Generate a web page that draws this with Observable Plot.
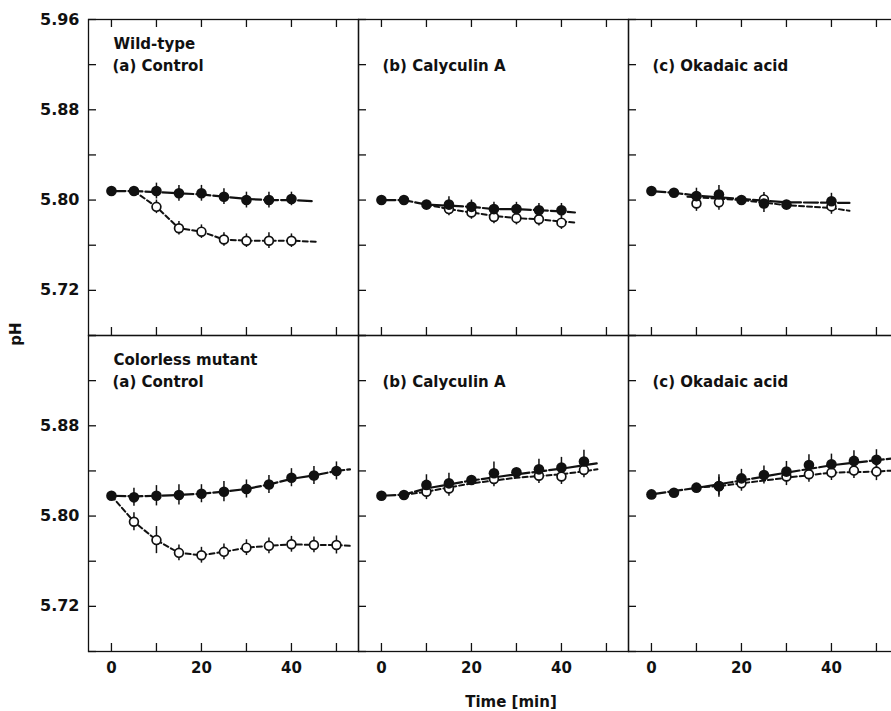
<!DOCTYPE html>
<html><head><meta charset="utf-8">
<script src="https://cdn.jsdelivr.net/npm/d3@7"></script>
<script src="https://cdn.jsdelivr.net/npm/@observablehq/plot@0.6"></script>
<style>
html,body{margin:0;padding:0;background:#fff;overflow:hidden;}
#wrap{position:relative;width:898px;height:711px;font-family:"DejaVu Sans",sans-serif;font-weight:bold;color:#111;}
#ylab{position:absolute;left:16px;top:334px;transform:translate(-50%,-50%) rotate(-90deg);font-size:15px;line-height:1;}
#xlab{position:absolute;left:511px;top:695px;height:14px;transform:translateX(-50%);font-size:15px;white-space:nowrap;line-height:14px;}
</style></head><body>
<div id="wrap"><div id="chart"></div><div id="ylab">pH</div><div id="xlab">Time [min]</div></div>
<script>
const strains = ["Wild-type", "Colorless mutant"];
const treatments = ["(a) Control", "(b) Calyculin A", "(c) Okadaic acid"];
const times = [0, 5, 10, 15, 20, 25, 30, 35, 40, 45, 50];
const xTicks = [0, 10, 20, 30, 40, 50];
const xTickLabels = [0, 20, 40];
const yTicks = [5.68, 5.72, 5.76, 5.80, 5.84, 5.88, 5.92, 5.96];
const yLabelsWild = [5.72, 5.80, 5.88, 5.96];
const yLabelsMutant = [5.72, 5.80, 5.88];

// Wild-type (a) Control
const wtCtrlFilled = [5.808, 5.808, 5.808, 5.806, 5.806, 5.803, 5.800, 5.800, 5.801];
const wtCtrlFilledErr = [0, 0, 0.007, 0.007, 0.007, 0.007, 0.007, 0.007, 0.006];
const wtCtrlOpen = [null, null, 5.794, 5.775, 5.772, 5.765, 5.764, 5.764, 5.764];
const wtCtrlOpenErr = [null, null, 0.006, 0.006, 0.006, 0.006, 0.006, 0.007, 0.006];
const wtCtrlFilledLine = [[0, 5.808], [5, 5.808], [10, 5.807], [15, 5.806], [20, 5.805], [25, 5.803], [30, 5.801], [35, 5.800], [40, 5.800], [44.5, 5.799]];
const wtCtrlOpenLine = [[5, 5.808], [10, 5.794], [15, 5.775], [20, 5.772], [25, 5.765], [30, 5.764], [35, 5.764], [40, 5.764], [45.5, 5.763]];

// Wild-type (b) Calyculin A
const wtCalyFilled = [5.800, 5.800, 5.796, 5.796, 5.794, 5.792, 5.792, 5.791, 5.791];
const wtCalyFilledErr = [0, 0, 0, 0.007, 0.006, 0.006, 0.006, 0.006, 0.006];
const wtCalyOpen = [null, null, null, 5.792, 5.789, 5.785, 5.784, 5.783, 5.780];
const wtCalyOpenErr = [null, null, null, 0.006, 0.006, 0.006, 0.006, 0.006, 0.006];
const wtCalyFilledLine = [[0, 5.800], [5, 5.800], [10, 5.796], [15, 5.795], [20, 5.794], [25, 5.792], [30, 5.792], [35, 5.791], [40, 5.790], [43, 5.789]];
const wtCalyOpenLine = [[10, 5.796], [15, 5.792], [20, 5.789], [25, 5.786], [30, 5.784], [35, 5.783], [40, 5.781], [43.5, 5.780]];

// Wild-type (c) Okadaic acid
const wtOkaFilled = [5.808, 5.8065, 5.8035, 5.805, 5.800, 5.797, 5.796, null, 5.799];
const wtOkaFilledErr = [0, 0, 0.007, 0.008, 0, 0.008, 0, null, 0.007];
const wtOkaOpen = [null, null, 5.797, 5.798, null, 5.8006, null, null, 5.7944];
const wtOkaOpenErr = [null, null, 0.007, 0.007, null, 0.006, null, null, 0.007];
const wtOkaFilledLine = [[0, 5.808], [5, 5.8065], [10, 5.804], [20, 5.801], [30, 5.798], [44, 5.7975]];
const wtOkaOpenLine = [[8, 5.803], [20, 5.800], [30, 5.7955], [40, 5.793], [44, 5.7905]];

// Colorless mutant (a) Control
const cmCtrlFilled = [5.818, 5.8166, 5.818, 5.8187, 5.8198, 5.8216, 5.824, 5.828, 5.834, 5.836, 5.840];
const cmCtrlFilledErr = [0, 0.008, 0.009, 0.009, 0.008, 0.009, 0.008, 0.008, 0.008, 0.008, 0.008];
const cmCtrlOpen = [null, 5.795, 5.7787, 5.7674, 5.7653, 5.7683, 5.772, 5.7736, 5.775, 5.7744, 5.7744];
const cmCtrlOpenErr = [null, 0.008, 0.012, 0.007, 0.007, 0.007, 0.007, 0.007, 0.007, 0.007, 0.008];
const cmCtrlFilledLine = [[0, 5.818], [5, 5.8175], [10, 5.818], [15, 5.8187], [20, 5.8198], [25, 5.8216], [30, 5.824], [35, 5.828], [40, 5.833], [45, 5.836], [50, 5.840], [53, 5.8414]];
const cmCtrlOpenLine = [[0, 5.818], [5, 5.795], [10, 5.7787], [15, 5.7674], [20, 5.7653], [25, 5.7683], [30, 5.772], [35, 5.7736], [40, 5.775], [45, 5.7744], [50, 5.7744], [53, 5.7736]];

// Colorless mutant (b) Calyculin A
const cmCalyFilled = [5.818, 5.8187, 5.8276, 5.829, 5.832, 5.8379, 5.8388, 5.8414, 5.843, 5.8483];
const cmCalyFilledErr = [0, 0, 0.009, 0.009, 0, 0.01, 0, 0.009, 0.009, 0.01];
const cmCalyOpen = [null, null, 5.8216, 5.8245, null, 5.8329, null, 5.8358, 5.835, 5.8409];
const cmCalyOpenErr = [null, null, 0.007, 0.007, null, 0.007, null, 0.007, 0.007, 0.007];
const cmCalyFilledLine = [[0, 5.818], [5, 5.819], [10, 5.8245], [20, 5.8315], [30, 5.837], [40, 5.842], [48, 5.8468]];
const cmCalyOpenLine = [[5, 5.8187], [10, 5.8216], [20, 5.829], [30, 5.834], [40, 5.837], [48, 5.8414]];

// Colorless mutant (c) Okadaic acid
const cmOkaFilled = [5.8192, 5.8207, 5.8252, 5.8267, 5.8334, 5.8364, 5.8394, 5.8453, 5.8459, 5.8489, 5.8498];
const cmOkaFilledErr = [0, 0, 0, 0.01, 0.008, 0.008, 0.009, 0.009, 0.009, 0.009, 0.009];
const cmOkaOpen = [null, null, null, 5.8265, 5.829, null, 5.835, 5.837, 5.8385, 5.8403, 5.8394];
const cmOkaOpenErr = [null, null, null, 0.008, 0.007, null, 0.008, 0.007, 0.007, 0.007, 0.008];
const cmOkaFilledLine = [[0, 5.8192], [10, 5.825], [20, 5.8315], [30, 5.8385], [40, 5.845], [50, 5.8495], [56, 5.852]];
const cmOkaOpenLine = [[10, 5.8252], [15, 5.8265], [20, 5.829], [30, 5.834], [40, 5.8385], [50, 5.8394], [56, 5.841]];

const panels = [
  [strains[0], treatments[0], wtCtrlFilled, wtCtrlFilledErr, wtCtrlOpen, wtCtrlOpenErr, wtCtrlFilledLine, wtCtrlOpenLine],
  [strains[0], treatments[1], wtCalyFilled, wtCalyFilledErr, wtCalyOpen, wtCalyOpenErr, wtCalyFilledLine, wtCalyOpenLine],
  [strains[0], treatments[2], wtOkaFilled, wtOkaFilledErr, wtOkaOpen, wtOkaOpenErr, wtOkaFilledLine, wtOkaOpenLine],
  [strains[1], treatments[0], cmCtrlFilled, cmCtrlFilledErr, cmCtrlOpen, cmCtrlOpenErr, cmCtrlFilledLine, cmCtrlOpenLine],
  [strains[1], treatments[1], cmCalyFilled, cmCalyFilledErr, cmCalyOpen, cmCalyOpenErr, cmCalyFilledLine, cmCalyOpenLine],
  [strains[1], treatments[2], cmOkaFilled, cmOkaFilledErr, cmOkaOpen, cmOkaOpenErr, cmOkaFilledLine, cmOkaOpenLine]
];

const filledPts = [], openPts = [], filledLines = [], openLines = [];
for (const [strain, treatment, F, Fe, O, Oe, FL, OL] of panels) {
  F.forEach((v, i) => { if (v != null) filledPts.push({strain, treatment, t: times[i], v, e: Fe[i]}); });
  O.forEach((v, i) => { if (v != null) openPts.push({strain, treatment, t: times[i], v, e: Oe[i]}); });
  FL.forEach(([t, v]) => filledLines.push({strain, treatment, t, v, key: strain + treatment}));
  OL.forEach(([t, v]) => openLines.push({strain, treatment, t, v, key: strain + treatment}));
}
const errPts = [...filledPts, ...openPts].filter(d => d.e > 0);

const yLabelRows = [
  ...yLabelsWild.map(v => ({strain: strains[0], treatment: treatments[0], v})),
  ...yLabelsMutant.map(v => ({strain: strains[1], treatment: treatments[0], v}))
];
const strainTitles = strains.map(s => ({strain: s, treatment: treatments[0]}));
const treatmentTitles = strains.flatMap(s => treatments.map(t => ({strain: s, treatment: t})));

const ink = "#111";
const chart = Plot.plot({
  width: 898,
  height: 711,
  marginLeft: 88,
  marginRight: 0,
  marginTop: 18,
  marginBottom: 60,
  style: {fontFamily: "DejaVu Sans, sans-serif", fontWeight: "bold", fontSize: "15px", color: ink, background: "#fff"},
  fx: {domain: treatments, axis: null, padding: 0},
  fy: {domain: strains, axis: null, padding: 0},
  x: {domain: [-5.1, 54.9]},
  y: {domain: [5.68, 5.96]},
  marks: [
    Plot.frame({stroke: ink, strokeWidth: 1.3}),
    Plot.axisX({anchor: "bottom", ticks: xTicks, tickSize: -8, tickFormat: () => "", label: null, facetAnchor: null, stroke: ink, strokeWidth: 1.3}),
    Plot.axisX({anchor: "top", ticks: xTicks, tickSize: -7, tickFormat: () => "", label: null, facetAnchor: "top", stroke: ink, strokeWidth: 1.3}),
    Plot.axisX({anchor: "bottom", ticks: xTickLabels, tickSize: 0, tickPadding: 11, label: null, facetAnchor: "bottom", fontSize: 15}),
    Plot.axisY({anchor: "left", ticks: yTicks, tickSize: -8, tickFormat: () => "", label: null, facetAnchor: null, stroke: ink, strokeWidth: 1.3}),
    Plot.text(yLabelRows, {fx: "treatment", fy: "strain", y: "v", text: d => d.v.toFixed(2), frameAnchor: "left", textAnchor: "end", dx: -9, fontSize: 16, fill: ink}),
    Plot.text(strainTitles, {fx: "treatment", fy: "strain", text: "strain", frameAnchor: "top-left", textAnchor: "start", lineAnchor: "top", dx: 25, dy: 19, fontSize: 15, fill: ink}),
    Plot.text(treatmentTitles, {fx: "treatment", fy: "strain", text: "treatment", frameAnchor: "top-left", textAnchor: "start", lineAnchor: "top", dx: 24, dy: 41, fontSize: 15, fill: ink}),
    Plot.line(openLines, {fx: "treatment", fy: "strain", x: "t", y: "v", z: "key", stroke: ink, strokeWidth: 2, strokeDasharray: "5,3", clip: true}),
    Plot.line(filledLines, {fx: "treatment", fy: "strain", x: "t", y: "v", z: "key", stroke: ink, strokeWidth: 2.2, strokeDasharray: "14,3", clip: true}),
    Plot.ruleX(errPts, {fx: "treatment", fy: "strain", x: "t", y1: d => d.v - d.e, y2: d => d.v + d.e, stroke: ink, strokeWidth: 1.5}),
    Plot.dot(openPts, {fx: "treatment", fy: "strain", x: "t", y: "v", r: 4.4, fill: "#fff", stroke: ink, strokeWidth: 1.7}),
    Plot.dot(filledPts, {fx: "treatment", fy: "strain", x: "t", y: "v", r: 5.3, fill: ink, stroke: "none"})
  ]
});
document.getElementById("chart").appendChild(chart);
</script>
</body></html>
